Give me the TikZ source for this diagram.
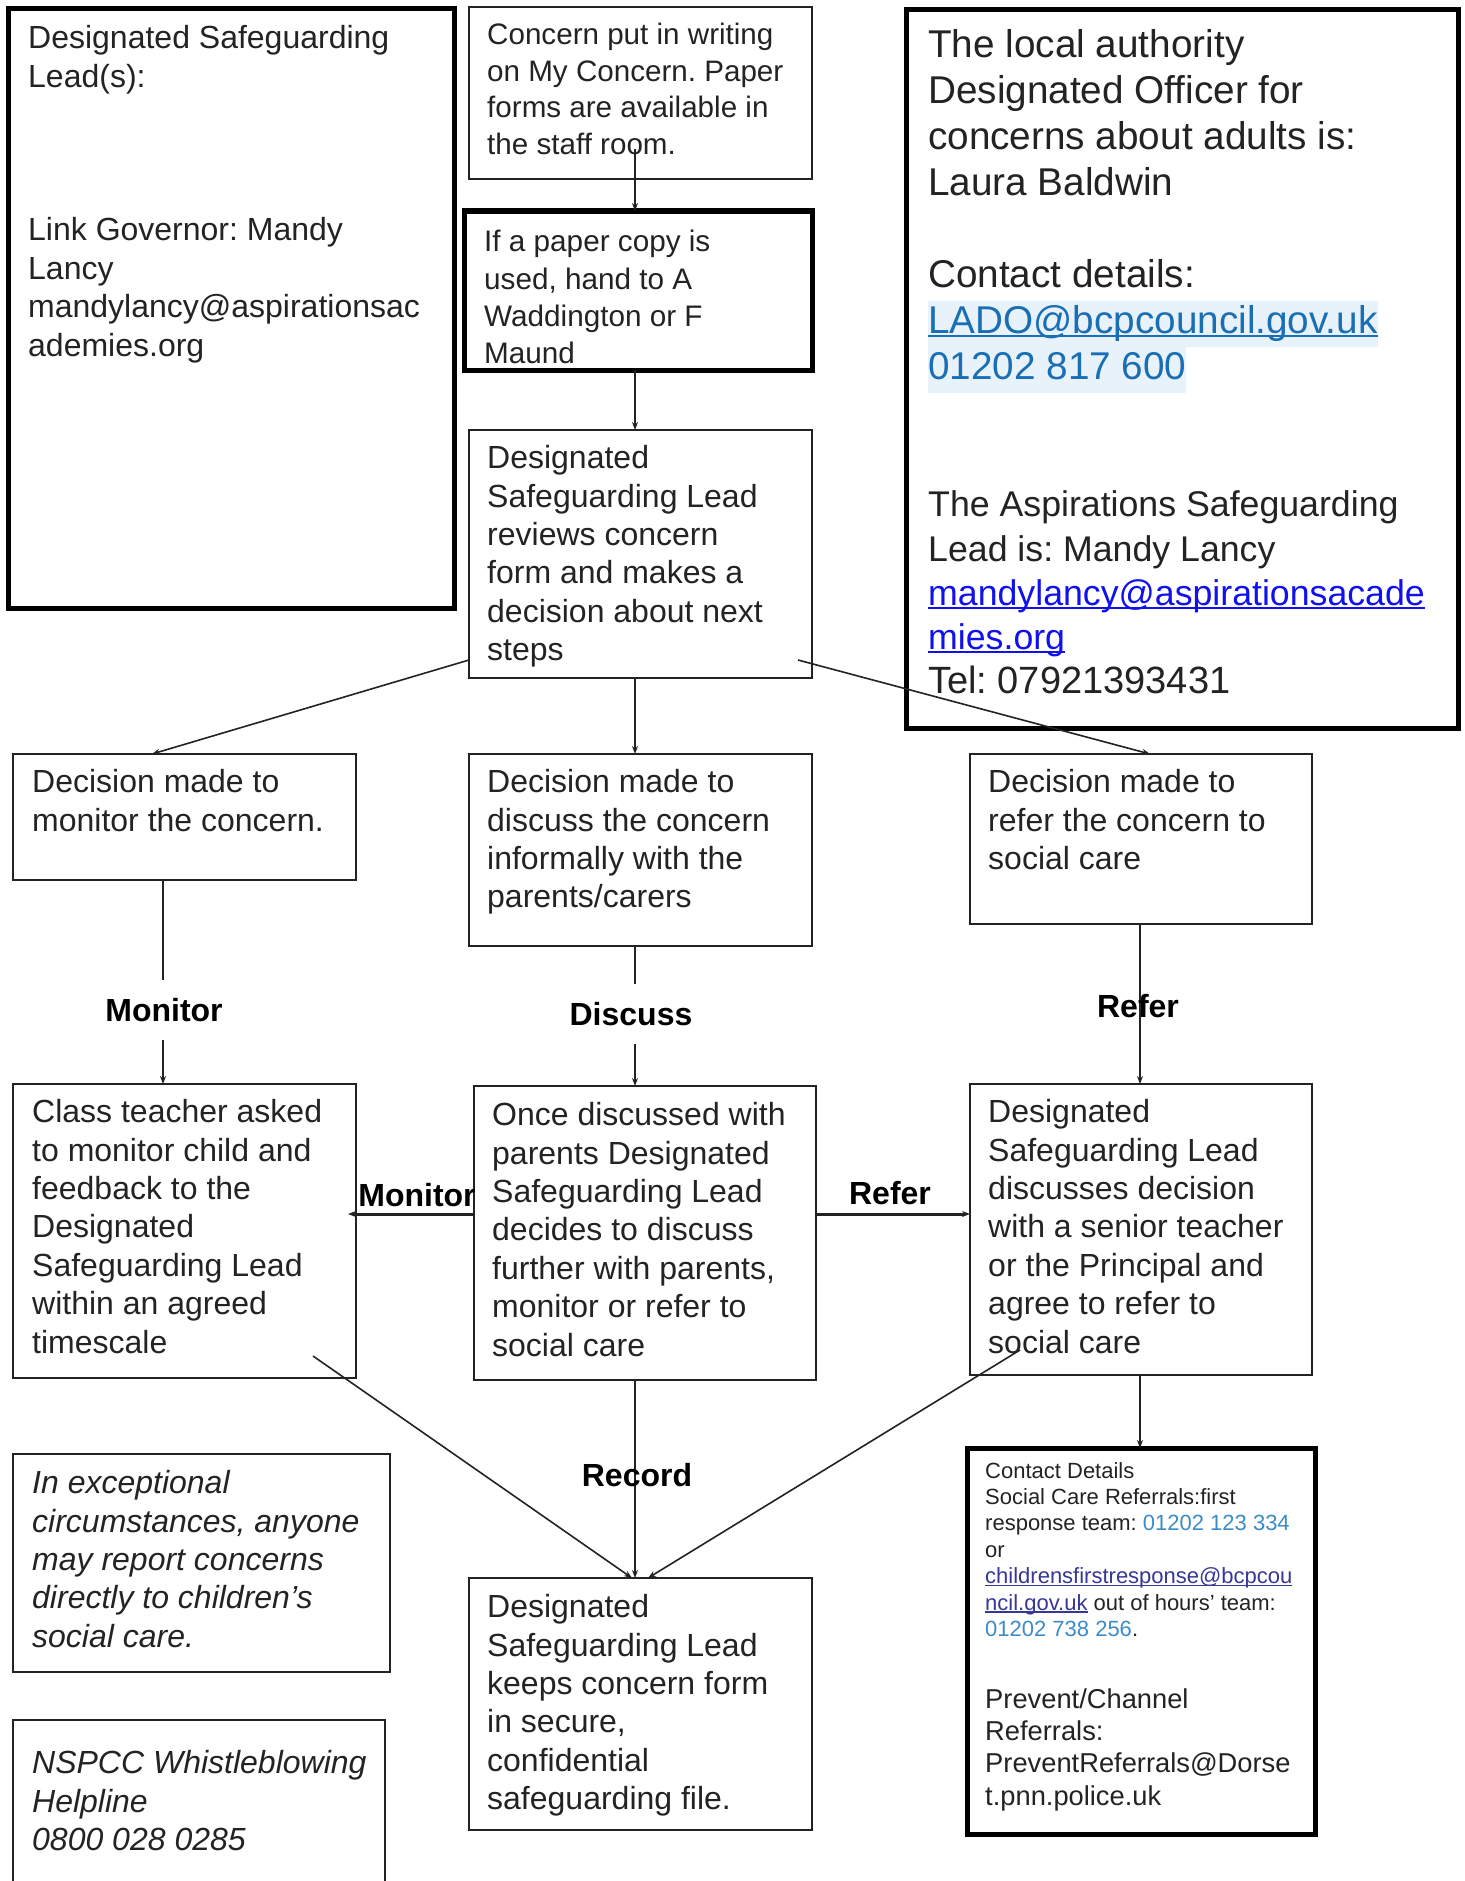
\documentclass[tikz,border=0pt]{standalone}
\usepackage{fontspec}
\setmainfont{Liberation Sans}
\usetikzlibrary{arrows.meta}
\definecolor{ink}{RGB}{35,35,35}
\definecolor{hl}{RGB}{232,242,250}
\definecolor{ladoblue}{RGB}{26,110,180}
\definecolor{linkblue}{RGB}{17,17,238}
\definecolor{phoneblue}{RGB}{60,140,200}
\definecolor{childlink}{RGB}{55,55,150}
\setlength{\fboxsep}{0pt}
\frenchspacing
\newcommand\fmain{\fontsize{32}{38.4}\selectfont}
\newcommand\myul[1]{\leavevmode\setbox0\hbox{#1}\rlap{\rule[-0.11em]{\wd0}{0.06em}}\box0}
\begin{document}
\begin{tikzpicture}[x=1pt,y=-1pt,
  box/.style={draw=ink, line width=1.6pt, anchor=north west, inner sep=0pt, outer sep=0pt},
  thickbox/.style={box, draw=black, line width=5pt},
  txt/.style={anchor=north west, inner sep=0pt, align=left, text=ink, font=\fmain},
  conn/.style={draw=ink, line width=1.6pt, -{Stealth[length=8pt,width=6pt]}},
  hconn/.style={conn, line width=3pt},
  lbl/.style={inner sep=0pt, font=\fmain\bfseries, text=black}]
\useasboundingbox (0,0) rectangle (1464,1881);
\clip (0,0) rectangle (1464,1881);
\fill[white] (0,0) rectangle (1464,1881);

% boxes
\node[thickbox, minimum width=446pt, minimum height=600pt] (dsl) at (8.5,8.5) {};
\node[box, minimum width=343pt, minimum height=172pt] (concern) at (469,7) {};
\node[thickbox, minimum width=348pt, minimum height=159pt] (paper) at (464,211) {};
\node[box, minimum width=343pt, minimum height=248pt] (review) at (469,430) {};
\node[thickbox, minimum width=552pt, minimum height=718pt] (la) at (906,10) {};
\node[box, minimum width=343pt, minimum height=126pt] (mon) at (13,754) {};
\node[box, minimum width=343pt, minimum height=192pt] (dis) at (469,754) {};
\node[box, minimum width=342pt, minimum height=170pt] (ref) at (970,754) {};
\node[box, minimum width=343pt, minimum height=294pt] (cls) at (13,1084) {};
\node[box, minimum width=342pt, minimum height=294pt] (once) at (474,1086) {};
\node[box, minimum width=342pt, minimum height=291pt] (dsd) at (970,1084) {};
\node[box, minimum width=377pt, minimum height=218pt] (exc) at (13,1454) {};
\node[box, minimum width=372pt, minimum height=220pt] (nspcc) at (13,1720) {};
\node[box, minimum width=343pt, minimum height=252pt] (keep) at (469,1578) {};
\node[thickbox, minimum width=348pt, minimum height=386pt] (contact) at (967,1448) {};

% texts
\node[txt] (tdsl) at (28,21.8) {\strut Designated Safeguarding\\Lead(s):\\~\\~\\~\\Link Governor: Mandy\\Lancy\\mandylancy@aspirationsac\\ademies.org};
\node[txt, font=\fontsize{29.6}{36.8}\selectfont] (tconcern) at (487,18.4) {\strut Concern put in writing\\on My Concern. Paper\\forms are available in\\the staff room.};
\node[txt, font=\fontsize{29.7}{37.2}\selectfont] (tpaper) at (484,225.6) {\strut If a paper copy is\\used, hand to A\\Waddington or F\\Maund};
\node[txt] (treview) at (487,441.6) {\strut Designated\\Safeguarding Lead\\reviews concern\\form and makes a\\decision about next\\steps};
\node[txt, font=\fontsize{38.7}{46}\selectfont] (tla1) at (928,24.65) {\strut The local authority\\Designated Officer for\\concerns about adults is:\\Laura Baldwin\\~\\Contact details:\\\colorbox{hl}{\strut\color{ladoblue}\myul{LADO@bcpcouncil.gov.uk}}\\\colorbox{hl}{\strut\color{ladoblue}01202 817 600}};
\node[txt, font=\fontsize{35.7}{44.2}\selectfont] (tla2) at (928,485.8) {\strut The Aspirations Safeguarding\\Lead is: Mandy Lancy\\{\color{linkblue}\myul{mandylancy@aspirationsacade}}\\{\color{linkblue}\myul{mies.org}}\\{\fontsize{38}{44.2}\selectfont Tel: 07921393431}};
\node[txt] (tmon) at (32,765.6) {\strut Decision made to\\monitor the concern.};
\node[txt] (tdis) at (487,765.6) {\strut Decision made to\\discuss the concern\\informally with the\\parents/carers};
\node[txt] (tref) at (988,765.6) {\strut Decision made to\\refer the concern to\\social care};
\node[txt] (tcls) at (32,1095.6) {\strut Class teacher asked\\to monitor child and\\feedback to the\\Designated\\Safeguarding Lead\\within an agreed\\timescale};
\node[txt] (tonce) at (492,1098.6) {\strut Once discussed with\\parents Designated\\Safeguarding Lead\\decides to discuss\\further with parents,\\monitor or refer to\\social care};
\node[txt] (tdsd) at (988,1095.6) {\strut Designated\\Safeguarding Lead\\discusses decision\\with a senior teacher\\or the Principal and\\agree to refer to\\social care};
\node[txt, font=\fmain\itshape] (texc) at (32,1466.6) {\strut In exceptional\\circumstances, anyone\\may report concerns\\directly to children’s\\social care.};
\node[txt, font=\fmain\itshape] (tnspcc) at (32,1746.6) {\strut NSPCC Whistleblowing\\Helpline\\0800 028 0285};
\node[txt] (tkeep) at (487,1590.6) {\strut Designated\\Safeguarding Lead\\keeps concern form\\in secure,\\confidential\\safeguarding file.};
\node[txt, font=\fontsize{22}{26.4}\selectfont] (tcontact) at (985,1459.4) {\strut Contact Details\\Social Care Referrals:first\\response team: {\color{phoneblue}01202 123 334}\\or\\{\color{childlink}\myul{childrensfirstresponse@bcpcou}}\\{\color{childlink}\myul{ncil.gov.uk}} out of hours’ team:\\{\color{phoneblue}01202 738 256}.};
\node[txt, font=\fontsize{27.3}{32.4}\selectfont] (tprevent) at (985,1685.1) {\strut Prevent/Channel\\Referrals:\\PreventReferrals@Dorse\\t.pnn.police.uk};

% connector helper coordinates
\coordinate (cs) at (635,149);
\coordinate (mx) at (163,0);
\coordinate (rx) at (1140,0);
\coordinate (rl) at (469,660);
\coordinate (ml) at (152,0);
\coordinate (rr) at (798,660);
\coordinate (rt) at (1150,0);
\coordinate (cl) at (313,1356);
\coordinate (kl) at (632,0);
\coordinate (dl) at (1020,1350);
\coordinate (kr) at (648,0);
\coordinate (hy) at (0,1214);
\coordinate (hl) at (348,1214);

% connectors
\draw[conn] (cs) -- (cs |- paper.north);
\draw[conn] (cs |- paper.south) -- (cs |- review.north);
\draw[conn] (cs |- review.south) -- (cs |- dis.north);
\draw[conn] (cs |- dis.south) -- (cs |- once.north);
\draw[conn] (cs |- once.south) -- (cs |- keep.north);
\draw[conn] (mx |- mon.south) -- (mx |- cls.north);
\draw[conn] (rx |- ref.south) -- (rx |- dsd.north);
\draw[conn] (rx |- dsd.south) -- (rx |- contact.north);
\draw[conn] (rl) -- (ml |- mon.north);
\draw[conn] (rr) -- (rt |- ref.north);
\draw[conn] (cl) -- (kl |- keep.north);
\draw[conn] (dl) -- (kr |- keep.north);
\draw[hconn] (once.west |- hy) -- (hl);
\draw[hconn] (once.east |- hy) -- (dsd.west |- hy);

% labels
\node[lbl, fill=white, minimum height=60pt] (lmon) at (164,1010) {Monitor};
\node[lbl, fill=white, minimum height=60pt] (ldis) at (631,1014) {Discuss};
\node[lbl] (lref) at (1138,1006) {Refer};
\node[lbl] (lmon2) at (417,1195) {Monitor};
\node[lbl] (lref2) at (890,1193) {Refer};
\node[lbl] (lrec) at (637,1475) {Record};
\end{tikzpicture}
\end{document}
